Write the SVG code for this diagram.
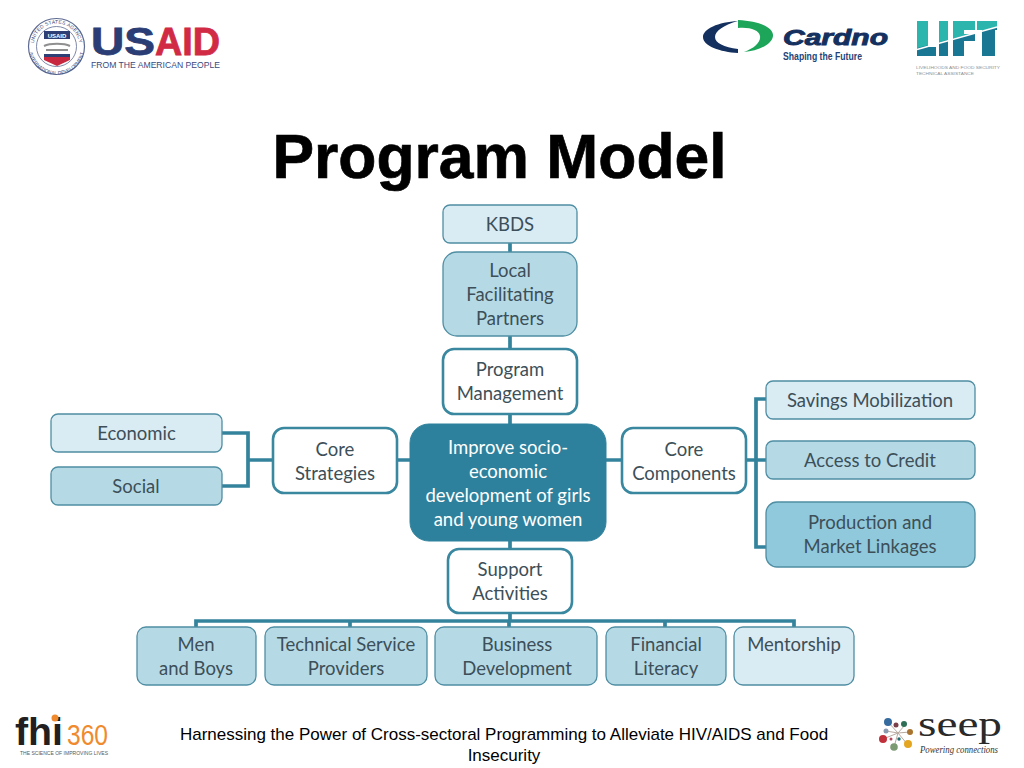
<svg xmlns="http://www.w3.org/2000/svg" width="1024" height="768" viewBox="0 0 1024 768">
<style>
.n{stroke:#4f8ea3;stroke-width:1.3}
.l{fill:#d9ebf3}.m{fill:#b5dae6}.d{fill:#90c9dc}
.w{fill:#fff;stroke:#3a87a0;stroke-width:2.6}
.c{fill:#2e819c;stroke:#2e819c}
.t{font-family:Lato,"Open Sans",sans-serif;font-size:18.5px;fill:#3d4f58;text-anchor:middle}
.tw{fill:#fff}
.cn{fill:none;stroke:#34839d;stroke-width:3.7}
.a{font-family:"Liberation Sans",Arial,sans-serif}
</style>
<defs>
<path id="lift" d="M917 21H928V47H936V56H917ZM939 21H948V56H939ZM953 21H975V30H964V34H975V41H964V56H953ZM977 21H997V30H995V56H982V30H977Z"/>
<clipPath id="liftLow"><path d="M910 50L1000 26V60H910Z"/></clipPath>
<path id="arcTop" d="M33.500 46.500A23 23 0 0 1 79.500 46.500"/>
<path id="arcBot" d="M28.500 46.500A28 28 0 0 0 84.500 46.500" transform="translate(0 0)"/>
</defs>
<rect width="1024" height="768" fill="#fff"/>
<text x="499.500" y="178" class="a" font-size="62.400" font-weight="700" text-anchor="middle" fill="#000" stroke="#000" stroke-width="0.7">Program Model</text>
<g id="connectors" class="cn">
<path d="M510 243V252M510 336V349M510 414V424M510 541V549M510 613V621"/>
<path d="M222 433H248V486H222M248 460H273M397 460H410"/>
<path d="M606 460H622M746 460H766M766 399H756V547H766"/>
<path d="M196 627V621H794V627M350 621V627M509 621V627M665 621V627"/>
</g>
<g id="kbds"><rect class="n l" x="443" y="205" width="134" height="38" rx="7"/><text class="t" x="510" y="231">KBDS</text></g>
<g id="local"><rect class="n m" x="443" y="252" width="134" height="84" rx="14"/><text class="t" x="510" y="277">Local</text><text class="t" x="510" y="301">Facilitating</text><text class="t" x="510" y="325">Partners</text></g>
<g id="program"><rect class="w" x="443" y="349" width="134" height="65" rx="11"/><text class="t" x="510" y="376">Program</text><text class="t" x="510" y="400">Management</text></g>
<g id="center"><rect class="c" x="410" y="424" width="196" height="117" rx="19"/><text class="t tw" x="508" y="453.500">Improve socio-</text><text class="t tw" x="508" y="477.500">economic</text><text class="t tw" x="508" y="501.500">development of girls</text><text class="t tw" x="508" y="525.500">and young women</text></g>
<g id="support"><rect class="w" x="448" y="549" width="124" height="64" rx="11"/><text class="t" x="510" y="576">Support</text><text class="t" x="510" y="599.500">Activities</text></g>
<g id="strategies"><rect class="w" x="273" y="428" width="124" height="65" rx="11"/><text class="t" x="335" y="455.500">Core</text><text class="t" x="335" y="479.500">Strategies</text></g>
<g id="components"><rect class="w" x="622" y="428" width="124" height="65" rx="11"/><text class="t" x="684" y="455.500">Core</text><text class="t" x="684" y="479.500">Components</text></g>
<g id="economic"><rect class="n l" x="51" y="414" width="171" height="38" rx="7"/><text class="t" x="136.500" y="439.500">Economic</text></g>
<g id="social"><rect class="n m" x="51" y="467" width="171" height="38" rx="7"/><text class="t" x="136" y="492.500">Social</text></g>
<g id="savings"><rect class="n l" x="766" y="381" width="209" height="38" rx="7"/><text class="t" x="870" y="406.500">Savings Mobilization</text></g>
<g id="credit"><rect class="n m" x="766" y="441" width="209" height="38" rx="7"/><text class="t" x="870" y="467">Access to Credit</text></g>
<g id="production"><rect class="n d" x="766" y="502" width="209" height="65" rx="11"/><text class="t" x="870" y="529">Production and</text><text class="t" x="870" y="553">Market Linkages</text></g>
<g id="men"><rect class="n m" x="137" y="627" width="119" height="58" rx="9"/><text class="t" x="196" y="651">Men</text><text class="t" x="196" y="675">and Boys</text></g>
<g id="technical"><rect class="n m" x="265" y="627" width="162" height="58" rx="9"/><text class="t" x="346" y="651">Technical Service</text><text class="t" x="346" y="675">Providers</text></g>
<g id="business"><rect class="n m" x="435" y="627" width="162" height="58" rx="9"/><text class="t" x="517" y="651">Business</text><text class="t" x="517" y="675">Development</text></g>
<g id="financial"><rect class="n m" x="606" y="627" width="120" height="58" rx="9"/><text class="t" x="666" y="651">Financial</text><text class="t" x="666" y="675">Literacy</text></g>
<g id="mentorship"><rect class="n l" x="734" y="627" width="120" height="58" rx="9"/><text class="t" x="794" y="651">Mentorship</text></g>
<text class="a" font-size="17" text-anchor="middle" fill="#000" x="504" y="740">Harnessing the Power of Cross-sectoral Programming to Alleviate HIV/AIDS and Food</text>
<text class="a" font-size="17" text-anchor="middle" fill="#000" x="504" y="761">Insecurity</text>
<g id="logo-usaid">
<circle cx="56.500" cy="46.500" r="28" fill="#fff" stroke="#5d6a92" stroke-width="1.200"/>
<circle cx="56.500" cy="46.500" r="20" fill="#fff" stroke="#5d6a92" stroke-width="0.800"/>
<text class="a" font-size="5" fill="#3a4a7d" letter-spacing="0.2"><textPath href="#arcTop" startOffset="50%" text-anchor="middle">UNITED STATES AGENCY</textPath></text>
<text class="a" font-size="4.800" fill="#3a4a7d"><textPath href="#arcBot" startOffset="50%" text-anchor="middle">INTERNATIONAL DEVELOPMENT</textPath></text>
<rect x="44" y="31" width="26" height="8" fill="#2e3f75"/>
<text x="57" y="37.500" class="a" font-size="6" font-weight="700" fill="#fff" text-anchor="middle">USAID</text>
<path d="M44 46C50 43 64 43 70 46M46 50H68" fill="none" stroke="#8f8f8f" stroke-width="2"/>
<path d="M44 54H70V60L57 66L44 60Z" fill="#c8283f"/>
<rect x="44" y="54" width="26" height="3" fill="#2e3f75"/>
<text x="91" y="55" class="a" font-size="38" font-weight="700" fill="#2b3d75" stroke="#2b3d75" stroke-width="0.800" textLength="64" lengthAdjust="spacingAndGlyphs">US</text>
<text x="155" y="55" class="a" font-size="38" font-weight="700" fill="#d12a44" stroke="#d12a44" stroke-width="0.800" textLength="65" lengthAdjust="spacingAndGlyphs">AID</text>
<text x="91" y="68" class="a" font-size="9" fill="#3a4a7d" textLength="129" lengthAdjust="spacingAndGlyphs">FROM THE AMERICAN PEOPLE</text>
</g>
<g id="logo-cardno">
<path d="M738 21C718 22 703 29 703 37C703 46 720 52 738 53L738 49C724 47 715 43 715 37C715 31 724 25 738 21Z" fill="#14305f"/>
<path d="M738 20C760 21 774 28 773 36C772 45 757 51 744 52C755 48 761 42 760 36C759 30 750 27 738 28Z" fill="#1da55a"/>
<text x="783" y="45" class="a" font-size="22" font-weight="700" font-style="italic" fill="#14305f" stroke="#14305f" stroke-width="0.900" textLength="105" lengthAdjust="spacingAndGlyphs">Cardno</text>
<text x="783" y="60" class="a" font-size="11" font-weight="700" fill="#1f4478" textLength="79" lengthAdjust="spacingAndGlyphs">Shaping the Future</text>
</g>
<g id="logo-lift">
<use href="#lift" fill="#2bb5ad"/>
<g clip-path="url(#liftLow)"><use href="#lift" fill="#1a7793"/></g>
<path d="M917 49.500L997 27" fill="none" stroke="#fff" stroke-width="1.500"/>
<text x="916" y="69" class="a" font-size="4.300" fill="#8a8f94" textLength="84" lengthAdjust="spacingAndGlyphs">LIVELIHOODS AND FOOD SECURITY</text>
<text x="916" y="75" class="a" font-size="4.300" fill="#8a8f94" textLength="58" lengthAdjust="spacingAndGlyphs">TECHNICAL ASSISTANCE</text>
</g>
<g id="logo-fhi">
<text x="15" y="745" class="a" font-size="38" font-weight="700" fill="#231f20" textLength="48" lengthAdjust="spacingAndGlyphs">fhi</text>
<circle cx="55" cy="718" r="3.500" fill="#f08a2c"/>
<text x="67" y="745" class="a" font-size="29" fill="#f08a2c" textLength="41" lengthAdjust="spacingAndGlyphs">360</text>
<text x="20" y="755" class="a" font-size="4.800" fill="#55595c" textLength="88" lengthAdjust="spacingAndGlyphs">THE SCIENCE OF IMPROVING LIVES</text>
</g>
<g id="logo-seep">
<g stroke="#b9a9a0" stroke-width="1"><path d="M898 733L888 722M898 733L905 725M898 733L910 732M898 733L908 745M898 733L894 747M898 733L883 739M898 733L886 731"/></g>
<circle cx="888" cy="722" r="4" fill="#356b9e"/><circle cx="896" cy="725" r="2.500" fill="#7b3f4a"/><circle cx="904" cy="724" r="3" fill="#2d6f56"/><circle cx="886" cy="731" r="2.500" fill="#8c9bb0"/><circle cx="910" cy="732" r="3" fill="#a9742f"/><circle cx="883" cy="739" r="4" fill="#c0303a"/><circle cx="891" cy="739" r="1.500" fill="#b3465a"/><circle cx="899" cy="739" r="1.700" fill="#1f6c70"/><circle cx="894" cy="747" r="3.800" fill="#7c9a72"/><circle cx="908" cy="744" r="4" fill="#e4a521"/>
<text x="918" y="736" font-family="Liberation Serif,serif" font-size="36" fill="#2a2a2a" textLength="84" lengthAdjust="spacingAndGlyphs">seep</text>
<text x="920" y="753" font-family="Liberation Serif,serif" font-size="10.500" font-style="italic" fill="#333" textLength="78" lengthAdjust="spacingAndGlyphs">Powering connections</text>
</g>
</svg>
